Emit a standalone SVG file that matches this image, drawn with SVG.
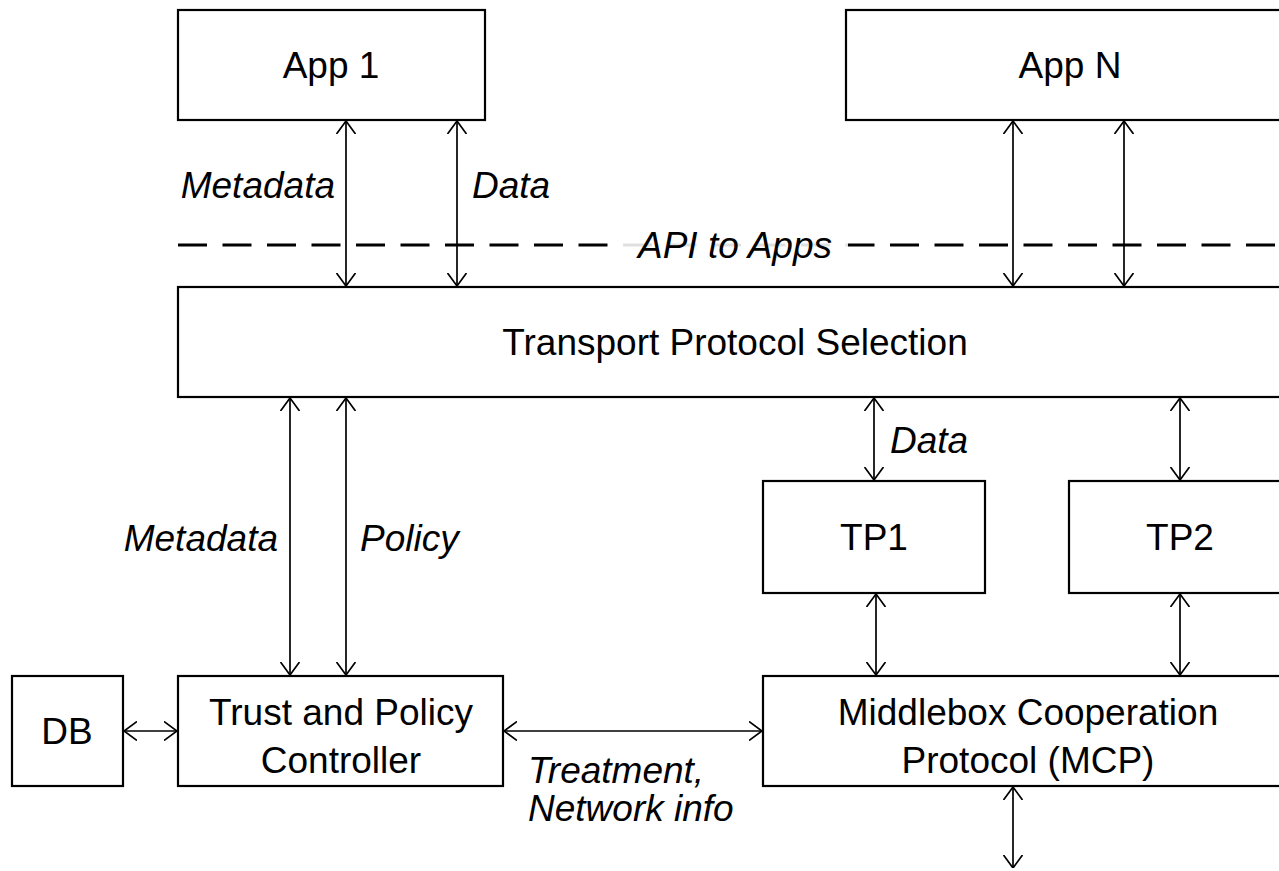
<svg xmlns="http://www.w3.org/2000/svg" width="1279" height="871" viewBox="0 0 1279 871">
<defs>
<marker id="ah" viewBox="0 0 13 20" refX="13" refY="10" markerWidth="13" markerHeight="20" markerUnits="userSpaceOnUse" orient="auto-start-reverse">
<path d="M0,0.5 L13,10 L0,19.5" fill="none" stroke="#000" stroke-width="1.7"/>
</marker>
</defs>
<style>
.box{fill:#fff;stroke:#000;stroke-width:2.2}
.t{font-family:"Liberation Sans",Arial,sans-serif;font-size:37px;fill:#000;text-anchor:middle}
.lbl{font-family:"Liberation Sans",Arial,sans-serif;font-size:37px;font-style:italic;fill:#000}
.c{fill:none;stroke:#000;stroke-width:1.7;marker-start:url(#ah);marker-end:url(#ah)}
</style>
<rect width="1279" height="871" fill="#fff"/>
<g id="api-line">
<line x1="178" y1="245" x2="1279" y2="245" stroke="#000" stroke-width="3" stroke-dasharray="29,15.5"/>
<rect x="622" y="228" width="226" height="34" fill="#fff" opacity="0.88"/>
<text class="lbl" x="735" y="258" text-anchor="middle">API to Apps</text>
</g>
<g id="app1"><rect class="box" x="178" y="10" width="307" height="110"/><text class="t" x="331" y="78">App 1</text></g>
<g id="appN"><rect class="box" x="846" y="10" width="448" height="110"/><text class="t" x="1070" y="78">App N</text></g>
<g id="tps"><rect class="box" x="178" y="287" width="1116" height="110"/><text class="t" x="735" y="355">Transport Protocol Selection</text></g>
<g id="tp1"><rect class="box" x="763" y="481" width="222" height="112"/><text class="t" x="874" y="550">TP1</text></g>
<g id="tp2"><rect class="box" x="1069" y="481" width="225" height="112"/><text class="t" x="1180" y="550">TP2</text></g>
<g id="db"><rect class="box" x="12" y="676" width="111" height="110"/><text class="t" x="67" y="744">DB</text></g>
<g id="tpc"><rect class="box" x="178" y="676" width="325" height="110"/><text class="t" x="341" y="725">Trust and Policy</text><text class="t" x="341" y="773">Controller</text></g>
<g id="mcp"><rect class="box" x="763" y="676" width="531" height="110"/><text class="t" x="1028" y="725">Middlebox Cooperation</text><text class="t" x="1028" y="773">Protocol (MCP)</text></g>
<g id="connectors">
<line class="c" x1="346" y1="121" x2="346" y2="286"/>
<line class="c" x1="457" y1="121" x2="457" y2="286"/>
<line class="c" x1="1013" y1="121" x2="1013" y2="286"/>
<line class="c" x1="1124" y1="121" x2="1124" y2="286"/>
<line class="c" x1="290" y1="398" x2="290" y2="675"/>
<line class="c" x1="346" y1="398" x2="346" y2="675"/>
<line class="c" x1="874" y1="398" x2="874" y2="480"/>
<line class="c" x1="1180" y1="398" x2="1180" y2="480"/>
<line class="c" x1="876" y1="594" x2="876" y2="675"/>
<line class="c" x1="1180" y1="594" x2="1180" y2="675"/>
<line class="c" x1="124" y1="731" x2="177" y2="731"/>
<line class="c" x1="504" y1="731" x2="762" y2="731"/>
<line class="c" x1="1013" y1="787" x2="1013" y2="868"/>
<text class="lbl" x="335" y="198" text-anchor="end">Metadata</text>
<text class="lbl" x="472" y="198">Data</text>
<text class="lbl" x="278" y="551" text-anchor="end">Metadata</text>
<text class="lbl" x="360" y="551">Policy</text>
<text class="lbl" x="890" y="453">Data</text>
<text class="lbl" x="528" y="783">Treatment,</text>
<text class="lbl" x="528" y="821">Network info</text>
</g>
</svg>
